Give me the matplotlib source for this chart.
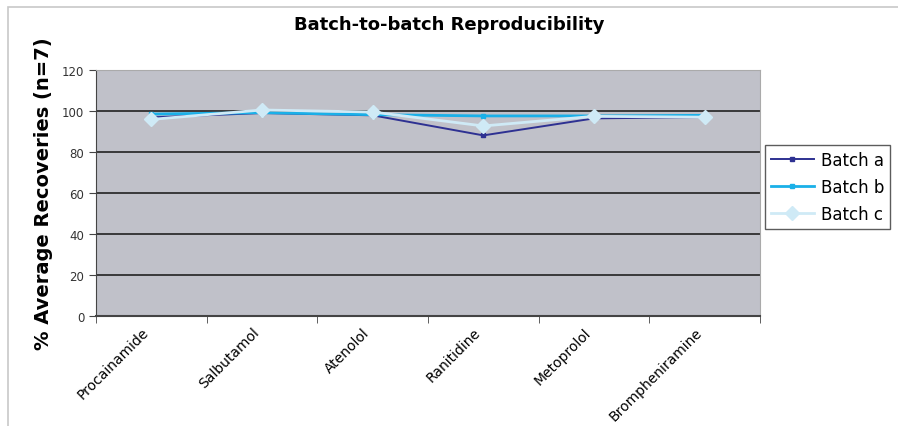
import matplotlib as mpl
mpl.use('Agg')
import matplotlib.pyplot as plt
import matplotlib.transforms as mtransforms
import numpy as np

drugs = ['Procainamide', 'Salbutamol', 'Atenolol', 'Ranitidine', 'Metoprolol', 'Brompheniramine']
batch_a = [96.9, 99.0, 97.9, 88.1, 96.4, 97.0]
batch_b = [98.5, 99.2, 98.2, 97.6, 97.6, 97.9]
batch_c = [95.9, 100.5, 99.5, 92.7, 97.4, 97.0]
yticks = [0, 20, 40, 60, 80, 100, 120]

fig = plt.figure(figsize=(8.98, 4.27), dpi=100)
ax = fig.add_axes([96/898, 1 - 317/427, (760 - 96)/898, (317 - 71)/427])
ax.set_facecolor('#c0c1c9')

# light outer frame like the spreadsheet chart area
fig.patches.append(plt.Rectangle((8/898, -0.1), 1.2, 1 - 8/427 + 0.1, transform=fig.transFigure,
                                 fill=False, edgecolor='#c8c8c8', lw=1.2))

x = np.arange(len(drugs))
ax.plot(x, batch_a, color='#2e3192', lw=1.4, marker='s', ms=3, label='Batch a', zorder=3)
ax.plot(x, batch_b, color='#1ab0e8', lw=2.0, marker='s', ms=3.5, label='Batch b', zorder=4)
ax.plot(x, batch_c, color='#cfeaf6', lw=2.0, marker='D', ms=7, label='Batch c', zorder=5)

ax.set_xlim(-0.5, len(drugs) - 0.5)
ax.set_ylim(0, 120)
ax.set_yticks(yticks)
ax.yaxis.grid(True, color='#222222', lw=1.2)
ax.set_axisbelow(True)
for s in ['top', 'right']:
    ax.spines[s].set_color('#aaaaaa')
ax.spines['left'].set_color('#444444')
ax.spines['bottom'].set_color('#444444')
ax.spines['bottom'].set_linewidth(1.5)

ax.set_xticks(x)
ax.set_xticklabels(drugs, rotation=45, ha='right', va='center', rotation_mode='anchor', fontsize=10)
ax.tick_params(axis='x', length=0, pad=10)
shift = mtransforms.ScaledTranslation(-5/100, 0, fig.dpi_scale_trans)
for lbl in ax.get_xticklabels():
    lbl.set_transform(lbl.get_transform() + shift)
ax.set_xticks(np.arange(-0.5, len(drugs) + 0.5, 1), minor=True)
ax.tick_params(axis='x', which='minor', length=5, color='#444444')
ax.tick_params(axis='y', labelsize=8.5, length=5, color='#444444', labelcolor='#333333')

ax.set_ylabel('% Average Recoveries (n=7)', fontsize=14, fontweight='bold', labelpad=6)
fig.text(0.5, 1 - 25/427, 'Batch-to-batch Reproducibility', ha='center', va='center',
         fontsize=13, fontweight='bold')

ax.legend(loc='center left', bbox_to_anchor=(1.005, 0.525), fontsize=12, frameon=True,
          fancybox=False, edgecolor='#333333', handlelength=2.6, borderpad=0.35,
          labelspacing=0.55, handletextpad=0.4, borderaxespad=0.1)

fig.savefig('out.png', dpi=100)
